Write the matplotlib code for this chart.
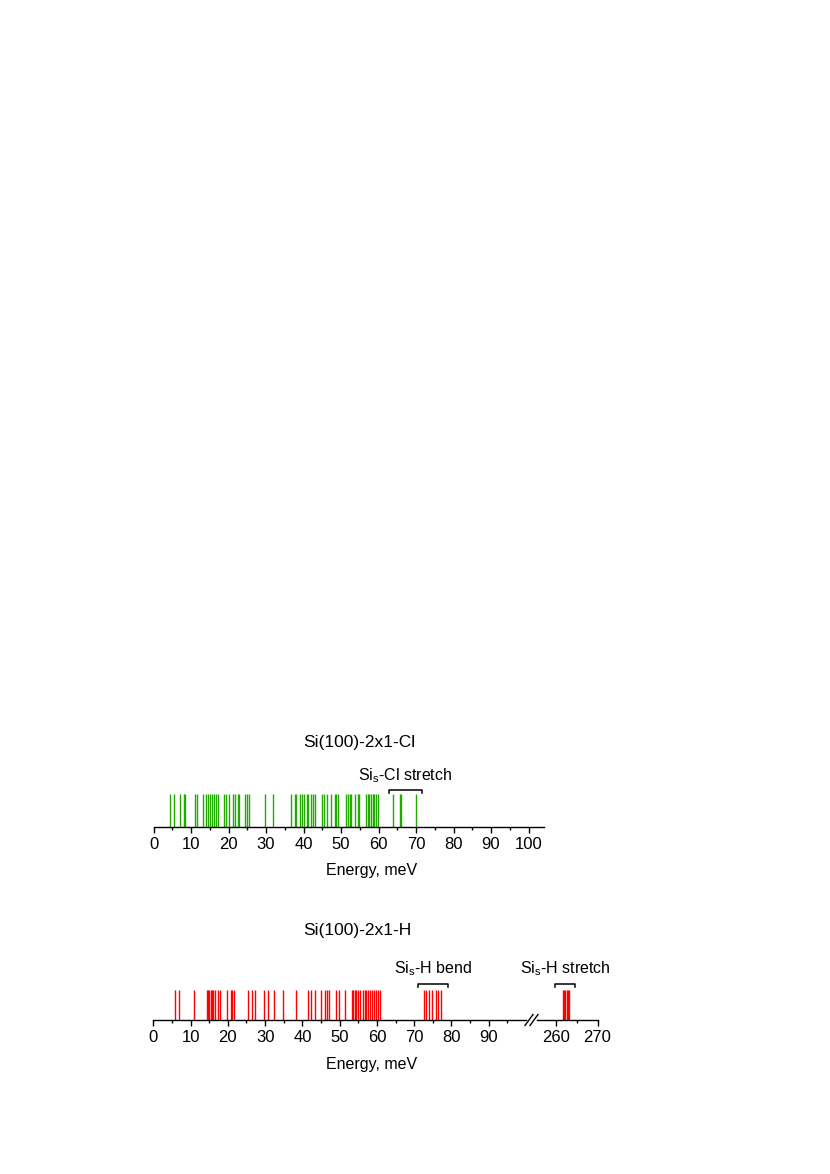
import numpy as np
import matplotlib.pyplot as plt

plt.rcParams.update({'font.family': 'Liberation Sans', 'font.size': 11,
                     'mathtext.fontset': 'custom',
                     'mathtext.rm': 'Liberation Sans',
                     'mathtext.it': 'Liberation Sans:italic'})

# ------------------------------------------------------------
# Veriler (meV)
# ------------------------------------------------------------
cl_modes = [4.5, 5.5, 7.0, 8.1, 8.5, 11.0, 11.5, 13.3, 14.1, 14.5, 15.1, 15.5,
            16.0, 16.6, 17.1, 18.9, 19.4, 20.1, 21.3, 21.7, 22.5, 22.9, 24.5,
            24.8, 25.5, 29.8, 31.9, 36.7, 37.6, 38.1, 39.0, 39.7, 40.2, 40.8,
            41.3, 42.0, 42.5, 43.0, 45.0, 45.4, 46.3, 47.3, 48.3, 48.7, 49.2,
            51.4, 51.8, 52.3, 52.7, 53.7, 54.6, 54.9, 56.6, 57.1, 57.5, 58.1,
            58.5, 58.9, 59.4, 59.8, 63.8, 65.7, 66.1, 70.0]

h_modes = [5.8, 7.0, 10.8, 14.3, 14.7, 15.0, 15.4, 15.7, 16.1, 16.5, 17.3,
           17.8, 19.7, 20.8, 21.2, 21.7, 25.3, 26.6, 27.2, 29.6, 30.9, 32.4,
           34.7, 38.2, 41.6, 42.2, 43.5, 44.9, 46.0, 46.5, 47.1, 49.1, 49.7,
           51.4, 53.3, 53.6, 54.1, 54.5, 54.9, 55.4, 56.3, 56.8, 57.2, 57.6,
           58.1, 58.6, 59.2, 59.7, 60.2, 60.8, 72.6, 73.3, 74.0, 74.8, 75.8,
           76.4, 77.3]
h_stretch = [261.7, 262.0, 262.3, 262.6, 262.9, 263.2]

cl_bracket = (62.7, 71.7)
h_bend_bracket = (70.9, 79.0)
h_stretch_bracket = (259.9, 264.6)

C_CL = '#22aa00'
C_H = '#ff0000'

W, H = 830, 1174
fig = plt.figure(figsize=(W / 100, H / 100), dpi=100)


def px_axes(x0, x1, y_axis, h=40):
    # piksel koordinatlarından eksen oluştur (y_axis = eksen çizgisi)
    return fig.add_axes([x0 / W, 1 - y_axis / H, (x1 - x0) / W, h / H])


def style(ax, xlim, major, minor):
    ax.set_xlim(*xlim)
    ax.set_ylim(0, 40)
    for s in ['top', 'right', 'left']:
        ax.spines[s].set_visible(False)
    ax.spines['bottom'].set_linewidth(1.0)
    ax.set_yticks([])
    ax.set_xticks(major)
    ax.set_xticks(minor, minor=True)
    ax.tick_params(axis='x', which='major', length=4.5, width=1.0, pad=3,
                   labelsize=12)
    ax.tick_params(axis='x', which='minor', length=2.5, width=1.0)
    ax.patch.set_alpha(0)


def bracket(ax, rng, label):
    x0, x1 = rng
    ax.plot([x0, x0, x1, x1], [33.5, 36.5, 36.5, 33.5], color='black',
            lw=1.1, clip_on=False)
    ax.text((x0 + x1) / 2, 42, label, ha='center', va='bottom', fontsize=11.5,
            clip_on=False)


# --- Üst panel: Cl ---
ax = px_axes(153.5, 543.5, 826.7)
style(ax, (0, 104), np.arange(0, 101, 10), np.arange(5, 101, 10))
ax.vlines(cl_modes, 0, 32.5, color=C_CL, lw=1.0)
bracket(ax, cl_bracket, r'Si$_\mathrm{s}$-Cl stretch')
fig.text(359 / W, 1 - 742 / H, 'Si(100)-2x1-Cl', ha='center', va='center',
         fontsize=12.5)
fig.text(372 / W, 1 - 871 / H, 'Energy, meV', ha='center', va='center',
         fontsize=11.5)

# --- Alt panel: H (kırık eksen) ---
ax1 = px_axes(153.3, 526, 1020)
style(ax1, (0, 100), np.arange(0, 91, 10), np.arange(5, 96, 10))
ax1.vlines(h_modes, 0, 30.5, color=C_H, lw=1.0)
bracket(ax1, h_bend_bracket, r'Si$_\mathrm{s}$-H bend')

ax2 = px_axes(537, 597.5, 1020)
style(ax2, (255.5, 270), [260, 270], [265])
ax2.vlines(h_stretch, 0, 30.5, color=C_H, lw=1.0)
bracket(ax2, h_stretch_bracket, r'Si$_\mathrm{s}$-H stretch')

# kırık işaretleri
for dx in (0, 5):
    fig.add_artist(plt.Line2D([(525 + dx) / W, (533 + dx) / W],
                              [1 - 1025.5 / H, 1 - 1014.5 / H],
                              color='black', lw=1.0))

fig.text(357 / W, 1 - 930 / H, 'Si(100)-2x1-H', ha='center', va='center',
         fontsize=12.5)
fig.text(372 / W, 1 - 1065 / H, 'Energy, meV', ha='center', va='center',
         fontsize=11.5)

plt.savefig('out.png', dpi=100)
